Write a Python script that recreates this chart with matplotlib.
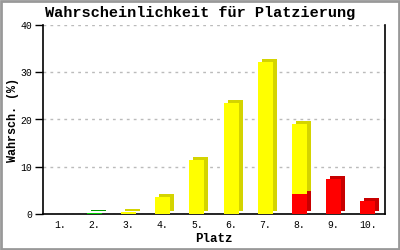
import matplotlib
matplotlib.use("Agg")
from matplotlib import pyplot as plt
from matplotlib import transforms
from matplotlib.patches import Rectangle
import numpy as np

places = ["1.", "2.", "3.", "4.", "5.", "6.", "7.", "8.", "9.", "10."]
red = [0, 0, 0, 0, 0, 0, 0, 4.2, 7.4, 2.8]
green = [0, 0.3, 0, 0, 0, 0, 0, 0, 0, 0]
yellow = [0, 0, 0.5, 3.5, 11.5, 23.4, 32.1, 14.9, 0.1, 0]
yticks = [0, 10, 20, 30, 40]

plt.rcParams["font.family"] = "Liberation Mono"

fig = plt.figure(figsize=(4, 2.5), dpi=100)
ax = fig.add_axes([0.1075, 0.144, 0.855, 0.756])

x = np.arange(1, len(places) + 1)
w = 0.44
depth = transforms.offset_copy(ax.transData, fig=fig, x=4, y=3, units="dots")

red = np.array(red)
green = np.array(green)
yellow = np.array(yellow)
segments = [
    (red, np.zeros(len(x)), "#ff0000", "#c80000"),
    (green, red, "#00cc00", "#009a00"),
    (yellow, red + green, "#ffff00", "#d4d400"),
]
# shaded copies shifted up/right give the 3d look
for vals, base, front, side in segments:
    m = vals > 0
    ax.bar(x[m], vals[m], w, bottom=base[m], color=side, transform=depth, zorder=2)
for vals, base, front, side in segments:
    m = vals > 0
    ax.bar(x[m], vals[m], w, bottom=base[m], color=front, zorder=3)

ax.set_xlim(0.5, 10.5)
ax.set_ylim(0, 40)
ax.set_yticks(yticks)
ax.set_xticks(x)
ax.set_xticklabels(places)
ax.tick_params(axis="x", length=0, pad=4, labelsize=7)
ax.tick_params(axis="y", length=6, width=1, pad=2, labelsize=7)
ax.yaxis.grid(True, color="#bbbbbb", linestyle=(0, (2, 3)), linewidth=1)
ax.set_axisbelow(True)
ax.spines["top"].set_visible(False)
for s in ["left", "right", "bottom"]:
    ax.spines[s].set_linewidth(1.2)

fig.text(0.535, 0.044, "Platz", ha="center", va="center", fontsize=9, fontweight="bold")
fig.text(0.032, 0.522, "Wahrsch. (%)", ha="center", va="center", rotation=90,
         fontsize=8.5, fontweight="bold")
fig.text(0.5, 0.948, "Wahrscheinlichkeit für Platzierung", ha="center", va="center",
         fontsize=11, fontweight="bold")

fig.patches.append(Rectangle((0.002, 0.003), 0.996, 0.994, transform=fig.transFigure,
                             fill=False, edgecolor="#999999", linewidth=2))

fig.savefig("out.png", dpi=100)
